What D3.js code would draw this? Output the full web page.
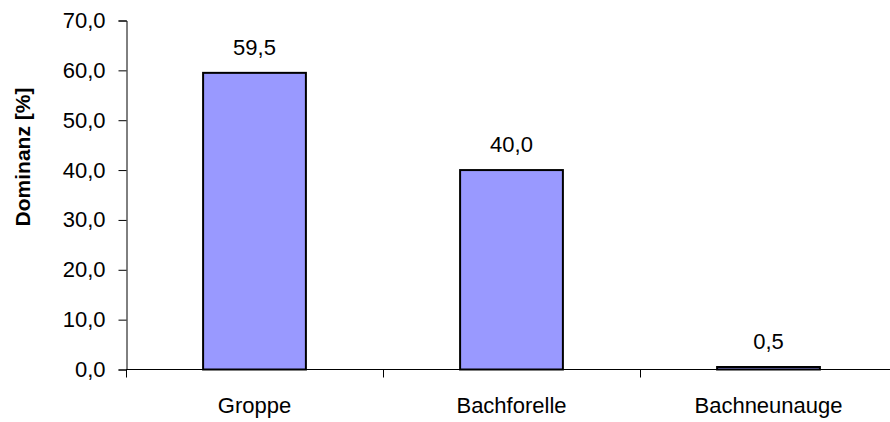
<!DOCTYPE html>
<html><head><meta charset="utf-8">
<script src="https://cdn.jsdelivr.net/npm/d3@7"></script>
<style>body{margin:0;background:#fff}svg{display:block}</style>
</head><body>
<script>
const categories = ["Groppe", "Bachforelle", "Bachneunauge"];
const values = [59.5, 40.0, 0.5];
const yTicks = [0, 10, 20, 30, 40, 50, 60, 70];
const yTitle = "Dominanz [%]";

const W = 890, H = 422;
const svg = d3.select("body").append("svg").attr("width", W).attr("height", H);
const font = "'Liberation Sans', Arial, sans-serif";
const fmt = v => v.toFixed(1).replace(".", ",");

const x0 = 126, x1 = 897;
const x = d3.scaleBand().domain(categories).range([x0, x1]).paddingInner(0.6).paddingOuter(0.3);
const y = d3.scaleLinear().domain([0, 70]).range([369.5, 20.5]);
const step = (x1 - x0) / categories.length;

// bars
svg.selectAll("rect.bar").data(values).join("rect").attr("class", "bar")
  .attr("x", (d, i) => x(categories[i]))
  .attr("width", x.bandwidth())
  .attr("y", d => y(d))
  .attr("height", d => y(0) - y(d))
  .attr("fill", "#9999FF").attr("stroke", "#000").attr("stroke-width", 2);

// y axis
const ya = svg.append("g").attr("transform", "translate(126.5,0)")
  .call(d3.axisLeft(y).tickValues(yTicks).tickFormat(fmt).tickSize(8).tickPadding(13));
ya.select(".domain").attr("stroke", "#000");
ya.selectAll(".tick line").attr("stroke", "#000");
ya.selectAll("text").attr("font-family", font).attr("font-size", 22).attr("fill", "#000");

// x axis
const xa = svg.append("g").attr("transform", "translate(0,369.5)");
xa.append("line").attr("x1", x0).attr("x2", x1).attr("stroke", "#000");
const edges = d3.range(categories.length + 1).map(i => x0 + i * step);
xa.selectAll("line.t").data(edges).join("line").attr("class", "t")
  .attr("x1", d => Math.round(d) + 0.5).attr("x2", d => Math.round(d) + 0.5)
  .attr("y1", 0).attr("y2", 8).attr("stroke", "#000");
xa.selectAll("text").data(categories).join("text")
  .attr("x", d => x(d) + x.bandwidth() / 2).attr("y", 43.5)
  .attr("text-anchor", "middle").attr("font-family", font).attr("font-size", 22).text(d => d);

// value labels
svg.selectAll("text.val").data(values).join("text").attr("class", "val")
  .attr("x", (d, i) => x(categories[i]) + x.bandwidth() / 2)
  .attr("y", d => y(d) - 18)
  .attr("text-anchor", "middle").attr("font-family", font).attr("font-size", 22).text(fmt);

// y title
svg.append("text").attr("transform", "translate(30,157) rotate(-90)")
  .attr("text-anchor", "middle").attr("font-family", font).attr("font-size", 21)
  .attr("font-weight", "bold").text(yTitle);
</script>
</body></html>
